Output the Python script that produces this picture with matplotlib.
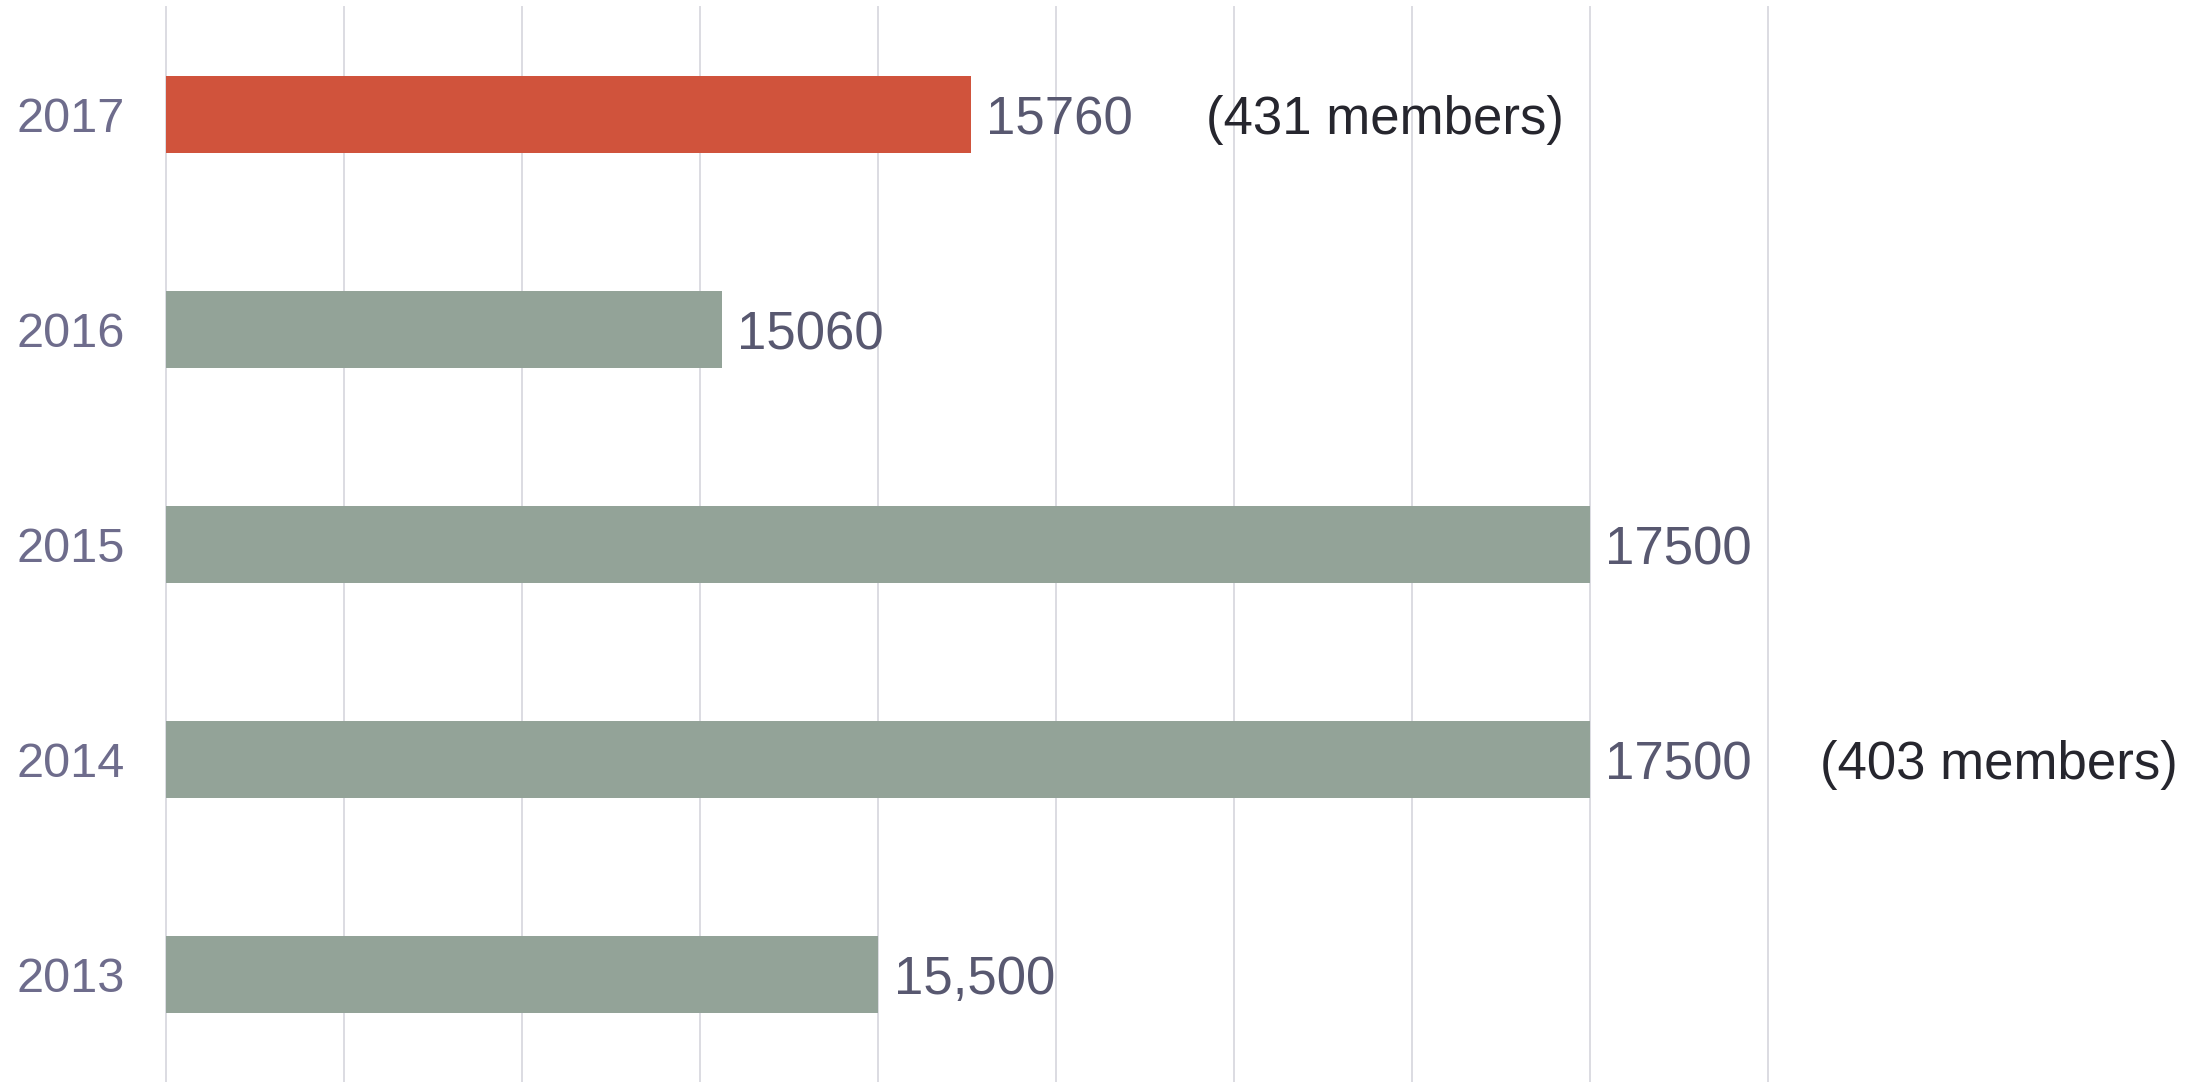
import matplotlib
matplotlib.use("Agg")
import matplotlib.pyplot as plt

years = ["2017", "2016", "2015", "2014", "2013"]
values = [15760, 15060, 17500, 17500, 15500]
value_labels = ["15760", "15060", "17500", "17500", "15,500"]
bar_colors = ["#D0533C", "#93A398", "#93A398", "#93A398", "#93A398"]
notes = [("2017", 16420, "(431 members)"), ("2014", 18145, "(403 members)")]
grid_vals = [13500, 14000, 14500, 15000, 15500, 16000, 16500, 17000, 17500, 18000]

plt.rcParams["font.family"] = ["Liberation Sans", "DejaVu Sans"]

fig = plt.figure(figsize=(21.92, 10.82), dpi=100)
ax = fig.add_axes([0.0759, 0.0, 0.7307, 0.9935])

ypos = list(range(len(years)))[::-1]
x0 = grid_vals[0]
ax.barh(ypos, [v - x0 for v in values], left=x0, height=0.358,
        color=bar_colors, zorder=2)

for g in grid_vals:
    ax.axvline(g, color="#DCDCE2", lw=1.4, zorder=1, clip_on=False)

ax.set_xlim(grid_vals[0], grid_vals[-1])
ax.set_ylim(-0.5, len(years) - 0.5)

for y, v, lab in zip(ypos, values, value_labels):
    ax.annotate(lab, xy=(v, y), xytext=(11, 0), textcoords="offset points",
                ha="left", va="center_baseline", fontsize=38, color="#585870",
                zorder=4, annotation_clip=False)

for yr, xv, txt in notes:
    y = ypos[years.index(yr)]
    ax.text(xv, y, txt, ha="left", va="center_baseline", fontsize=38,
            color="#26262E", zorder=4, clip_on=False)

ax.set_yticks(ypos)
ax.set_yticklabels(years, fontsize=35, color="#6E6C8C", va="center_baseline")
ax.tick_params(axis="y", length=0, pad=30)
ax.set_xticks([])
for s in ax.spines.values():
    s.set_visible(False)

fig.savefig("out.png", dpi=100)
